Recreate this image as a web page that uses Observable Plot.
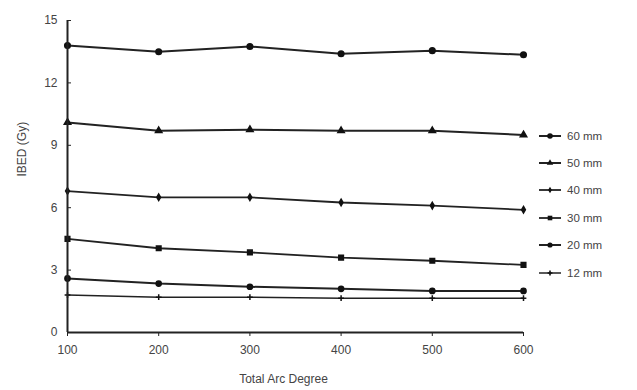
<!DOCTYPE html>
<html><head><meta charset="utf-8">
<script src="https://cdn.jsdelivr.net/npm/d3@7"></script>
<script src="https://cdn.jsdelivr.net/npm/@observablehq/plot@0.6"></script>
<style>
body{margin:0;background:#fff;font-family:"Liberation Sans",Arial,sans-serif;}
#wrap{position:relative;width:637px;height:390px;}
#legend{position:absolute;left:538px;top:122px;font-size:11.5px;color:#444;}
#legend .it{display:flex;align-items:center;height:27.4px;}
#legend svg{margin-right:5px;}
</style></head>
<body><div id="wrap"><div id="chart"></div><div id="legend"></div></div>
<script>
const degrees = [100, 200, 300, 400, 500, 600];
const seriesNames = ["60 mm", "50 mm", "40 mm", "30 mm", "20 mm", "12 mm"];
const s60 = [13.8, 13.5, 13.75, 13.4, 13.55, 13.35];
const s50 = [10.1, 9.7, 9.75, 9.7, 9.7, 9.5];
const s40 = [6.8, 6.5, 6.5, 6.25, 6.1, 5.9];
const s30 = [4.5, 4.05, 3.85, 3.6, 3.45, 3.25];
const s20 = [2.6, 2.35, 2.2, 2.1, 2.0, 2.0];
const s12 = [1.8, 1.7, 1.7, 1.65, 1.65, 1.65];
const yTicks = [0, 3, 6, 9, 12, 15];
const symbols = ["circle", "triangle", "diamond", "square", "circle", "plus"];
const sizes = [2.8, 2.4, 2, 2.6, 2.6, 2];
const widths = [2, 2, 1.8, 1.8, 2, 1.5];

const all = [s60, s50, s40, s30, s20, s12];
const data = [];
all.forEach((arr, i) => arr.forEach((v, j) => data.push({series: seriesNames[i], idx: i, x: degrees[j], y: v})));

const marks = [];
all.forEach((arr, i) => {
  const d = data.filter(r => r.idx === i);
  marks.push(Plot.line(d, {x: "x", y: "y", stroke: "#222", strokeWidth: widths[i]}));
  marks.push(Plot.dot(d, {x: "x", y: "y", symbol: () => symbols[i], r: sizes[i], fill: "#111", stroke: "#111"}));
});

const chart = Plot.plot({
  width: 637, height: 390,
  marginLeft: 67, marginRight: 114, marginTop: 20, marginBottom: 58,
  style: {fontFamily: "Liberation Sans, Arial, sans-serif", fontSize: "12px", color: "#444", background: "#fff"},
  symbol: {type: "identity"},
  x: {type: "linear", domain: [100, 600]},
  y: {type: "linear", domain: [0, 15]},
  marks: [
    Plot.axisX(degrees, {tickSize: 4, tickPadding: 9, label: null, stroke: "#222"}),
    Plot.axisY(yTicks, {tickSize: -4, tickPadding: 14, label: null, stroke: "#222"}),
    Plot.text(["Total Arc Degree"], {frameAnchor: "bottom", dy: 50, dx: -12, fontSize: 12, fill: "#444"}),
    Plot.text(["IBED (Gy)"], {frameAnchor: "left", dx: -45, rotate: -90, fontSize: 12, fill: "#444"}),
    ...marks,
    Plot.ruleX([100], {stroke: "#222", strokeWidth: 2}),
    Plot.ruleY([0], {stroke: "#222", strokeWidth: 2})
  ]
});
document.getElementById("chart").appendChild(chart);

const leg = document.getElementById("legend");
seriesNames.forEach((n, i) => {
  const it = document.createElement("div"); it.className = "it";
  const sym = d3.symbol().type({circle: d3.symbolCircle, triangle: d3.symbolTriangle, diamond: d3.symbolDiamond, square: d3.symbolSquare, plus: d3.symbolCross}[symbols[i]]).size(sizes[i] * sizes[i] * 3.14)();
  it.innerHTML = `<svg width="24" height="10"><line x1="1" x2="23" y1="5" y2="5" stroke="#222" stroke-width="${widths[i]}"/><path d="${sym}" transform="translate(12,5)" fill="#111"/></svg><span>${n}</span>`;
  leg.appendChild(it);
});
</script></body></html>
